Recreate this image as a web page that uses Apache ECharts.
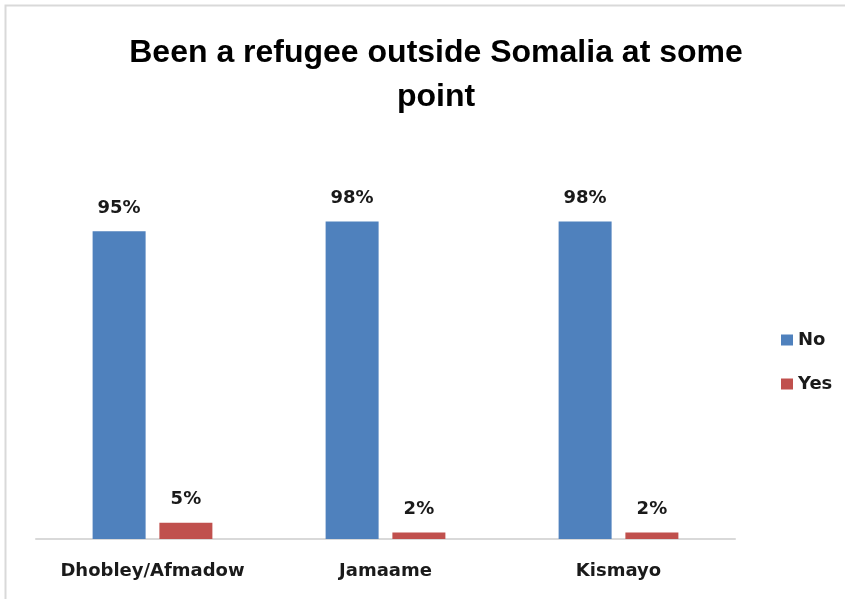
<!DOCTYPE html>
<html>
<head>
<meta charset="utf-8">
<script src="https://cdn.jsdelivr.net/npm/echarts@6/dist/echarts.min.js"></script>
<style>
  html, body { margin: 0; padding: 0; background: #fff; }
  #chart { width: 845px; height: 599px; }
</style>
</head>
<body>
<div id="chart"></div>
<script>
// Survey: been a refugee outside Somalia at some point, by district
const districts = ['Dhobley/Afmadow', 'Jamaame', 'Kismayo'];
const noValues = [95, 98, 98];
const yesValues = [5, 2, 2];
const seriesNames = ['No', 'Yes'];
const titleText = 'Been a refugee outside Somalia at some\npoint';

const labelFont = 'DejaVu Sans, Verdana, sans-serif';

const chart = echarts.init(document.getElementById('chart'), null, { renderer: 'canvas' });

const valueLabel = {
  show: true,
  position: 'top',
  distance: 14,
  formatter: p => p.value + '%',
  fontFamily: labelFont,
  fontWeight: 'bold',
  fontSize: 18,
  color: '#1a1a1a'
};

chart.setOption({
  animation: false,
  backgroundColor: '#ffffff',
  title: {
    text: titleText,
    left: 431,
    top: 26,
    textAlign: 'center',
    textStyle: {
      fontFamily: 'Liberation Sans, Arial, sans-serif',
      fontWeight: 'bold',
      fontSize: 32,
      lineHeight: 44,
      color: '#000000'
    }
  },
  legend: {
    orient: 'vertical',
    left: 776,
    top: 326,
    itemWidth: 12,
    itemHeight: 11,
    itemGap: 26,
    icon: 'rect',
    data: seriesNames,
    textStyle: {
      fontFamily: labelFont,
      fontWeight: 'bold',
      fontSize: 18,
      color: '#1a1a1a',
      padding: [0, 0, 0, 0]
    }
  },
  grid: {
    left: 36,
    right: 110,
    top: 215,
    bottom: 60,
    containLabel: false
  },
  xAxis: {
    type: 'category',
    data: districts,
    axisLine: { show: true, lineStyle: { color: '#d9d9d9', width: 2 } },
    axisTick: { show: false },
    axisLabel: {
      interval: 0,
      margin: 23,
      fontFamily: labelFont,
      fontWeight: 'bold',
      fontSize: 18,
      color: '#1a1a1a'
    }
  },
  yAxis: {
    type: 'value',
    min: 0,
    max: 100,
    show: false,
    splitLine: { show: false }
  },
  series: [
    {
      name: seriesNames[0],
      type: 'bar',
      data: noValues,
      barWidth: 53,
      barGap: '26%',
      itemStyle: { color: '#4F81BD' },
      label: valueLabel
    },
    {
      name: seriesNames[1],
      type: 'bar',
      data: yesValues,
      barWidth: 53,
      itemStyle: { color: '#C0504D' },
      label: valueLabel
    }
  ],
  graphic: [
    {
      type: 'rect',
      silent: true,
      shape: { x: 5.5, y: 5.5, width: 900, height: 700 },
      style: { fill: 'none', stroke: '#d9d9d9', lineWidth: 2 }
    }
  ]
});
</script>
</body>
</html>
